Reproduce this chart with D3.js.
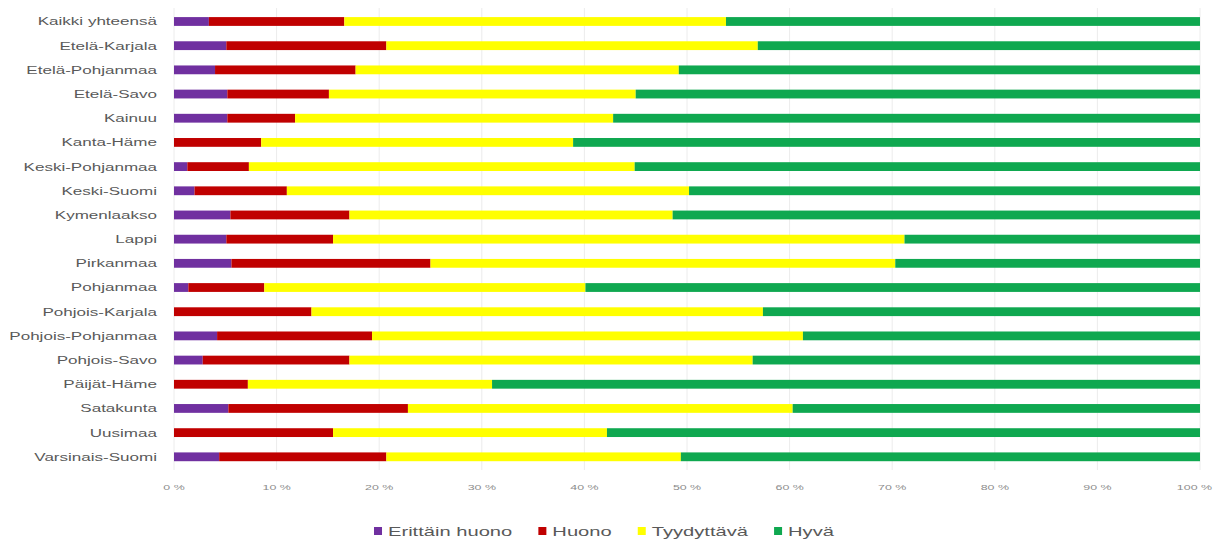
<!DOCTYPE html>
<html>
<head>
<meta charset="utf-8">
<script src="https://cdn.jsdelivr.net/npm/d3@7"></script>
<style>
  html, body { margin: 0; padding: 0; background: #ffffff; }
  svg { display: block; }
  text { font-family: "Liberation Sans", Arial, sans-serif; }
</style>
</head>
<body>
<svg id="chart" width="1214" height="541"></svg>
<script>
// Regions (top to bottom)
const categories = [
  "Kaikki yhteensä", "Etelä-Karjala", "Etelä-Pohjanmaa", "Etelä-Savo", "Kainuu",
  "Kanta-Häme", "Keski-Pohjanmaa", "Keski-Suomi", "Kymenlaakso", "Lappi",
  "Pirkanmaa", "Pohjanmaa", "Pohjois-Karjala", "Pohjois-Pohjanmaa", "Pohjois-Savo",
  "Päijät-Häme", "Satakunta", "Uusimaa", "Varsinais-Suomi"
];

// Shares (%) per rating
const erittainHuono = [3.4, 5.1, 4.0, 5.2, 5.2, 0, 1.3, 2.0, 5.5, 5.1, 5.6, 1.4, 0, 4.2, 2.8, 0, 5.3, 0, 4.4];
const huono         = [13.2, 15.6, 13.7, 9.9, 6.6, 8.5, 6.0, 9.0, 11.6, 10.4, 19.4, 7.4, 13.4, 15.1, 14.3, 7.2, 17.5, 15.5, 16.3];
const tyydyttava    = [37.2, 36.2, 31.5, 29.9, 31.0, 30.4, 37.6, 39.2, 31.5, 55.7, 45.3, 31.3, 44.0, 42.0, 39.3, 23.8, 37.5, 26.7, 28.7];
const hyva          = [46.2, 43.1, 50.8, 55.0, 57.2, 61.1, 55.1, 49.8, 51.4, 28.8, 29.7, 59.9, 42.6, 38.7, 43.6, 69.0, 39.7, 57.8, 50.6];

const seriesNames = ["Erittäin huono", "Huono", "Tyydyttävä", "Hyvä"];
const seriesColors = ["#7030A0", "#C00000", "#FFFF00", "#0FA850"];

const tickValues = [0, 10, 20, 30, 40, 50, 60, 70, 80, 90, 100];
const tickLabels = ["0 %", "10 %", "20 %", "30 %", "40 %", "50 %", "60 %", "70 %", "80 %", "90 %", "100 %"];

// Build rows for the stack
const keys = ["eh", "h", "t", "hy"];
const rows = categories.map((c, i) => ({
  cat: c, eh: erittainHuono[i], h: huono[i], t: tyydyttava[i], hy: hyva[i]
}));
const stacked = d3.stack().keys(keys)(rows);

const svg = d3.select("#chart");
const SX = 1.55;      // horizontal text stretch
const barH = 8.8;
const W = 1214;

const x = d3.scaleLinear().domain([0, 100]).range([174, 1200]);
const y = d3.scaleBand().domain(categories).range([9.4, 468.9]);

// Vertical gridlines
svg.append("g")
  .selectAll("line")
  .data(tickValues)
  .join("line")
  .attr("x1", d => x(d)).attr("x2", d => x(d))
  .attr("y1", 8).attr("y2", 470)
  .attr("stroke", "#ececec")
  .attr("stroke-width", 1);

// Stacked bars
svg.append("g")
  .selectAll("g")
  .data(stacked)
  .join("g")
  .attr("fill", (d, i) => seriesColors[i])
  .selectAll("rect")
  .data(d => d)
  .join("rect")
  .attr("x", d => x(d[0]))
  .attr("width", d => Math.max(0, x(d[1]) - x(d[0])))
  .attr("y", d => y(d.data.cat) + y.bandwidth() / 2 - barH / 2)
  .attr("height", barH);

// Category labels
svg.append("g")
  .selectAll("text")
  .data(categories)
  .join("text")
  .attr("transform", d => `translate(157,${y(d) + y.bandwidth() / 2}) scale(${SX},1)`)
  .attr("text-anchor", "end")
  .attr("dy", "0.36em")
  .attr("font-size", 11)
  .attr("fill", "#595959")
  .text(d => d);

// X axis tick labels (kept inside the page at the right edge)
svg.append("g")
  .selectAll("text")
  .data(tickValues)
  .join("text")
  .attr("text-anchor", "middle")
  .attr("font-size", 8)
  .attr("fill", "#8c8c8c")
  .text((d, i) => tickLabels[i])
  .each(function (d) {
    const half = this.getComputedTextLength() * SX / 2;
    const cx = Math.min(x(d), W - 2 - half);
    d3.select(this).attr("transform", `translate(${cx},490) scale(${SX},1)`);
  });

// Legend
const legend = svg.append("g");
const items = legend.selectAll("g")
  .data(seriesNames)
  .join("g");
items.append("rect")
  .attr("width", 8).attr("height", 8)
  .attr("y", 527)
  .attr("fill", (d, i) => seriesColors[i]);
items.append("text")
  .attr("font-size", 13)
  .attr("fill", "#595959")
  .attr("text-anchor", "start")
  .text(d => d);

// Lay out legend items horizontally, centred on the page
const sq = 8, gap = 6, spacing = 26;
let widths = [];
items.each(function () {
  const t = d3.select(this).select("text").node();
  widths.push(t.getComputedTextLength() * SX);
});
const total = widths.reduce((a, w) => a + sq + gap + w, 0) + spacing * (widths.length - 1);
let cx = 604 - total / 2;
items.each(function (d, i) {
  const g = d3.select(this);
  g.select("rect").attr("x", cx);
  g.select("text").attr("transform", `translate(${cx + sq + gap},535.5) scale(${SX},1)`);
  cx += sq + gap + widths[i] + spacing;
});
</script>
</body>
</html>
